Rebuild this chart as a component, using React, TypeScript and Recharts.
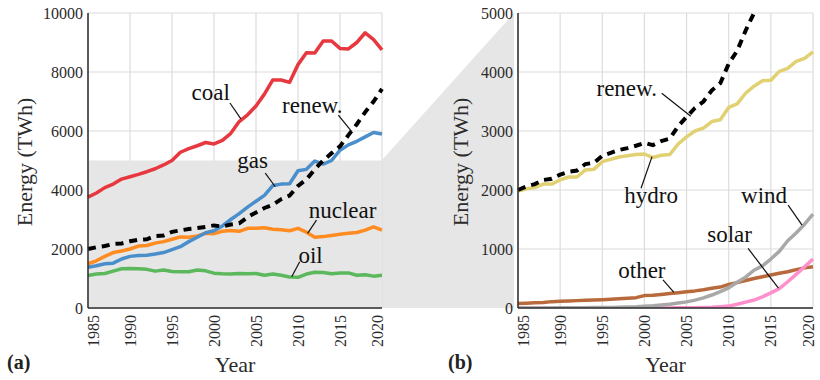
import React from 'react';
import {
  LineChart,
  Line,
  XAxis,
  YAxis,
  CartesianGrid,
  ReferenceArea,
  ReferenceLine,
  ReferenceDot,
} from 'recharts';

// yearly world electricity generation, TWh
const years = [
  1985, 1986, 1987, 1988, 1989, 1990, 1991, 1992, 1993, 1994, 1995, 1996,
  1997, 1998, 1999, 2000, 2001, 2002, 2003, 2004, 2005, 2006, 2007, 2008,
  2009, 2010, 2011, 2012, 2013, 2014, 2015, 2016, 2017, 2018, 2019, 2020,
];
const coal = [
  3760, 3900, 4080, 4200, 4370, 4450, 4530, 4620, 4720, 4850, 5000, 5280,
  5400, 5500, 5610, 5560, 5680, 5920, 6320, 6550, 6850, 7250, 7730, 7730,
  7650, 8250, 8650, 8640, 9050, 9050, 8800, 8780, 9000, 9330, 9100, 8750,
];
const gas = [
  1380, 1430, 1500, 1520, 1660, 1750, 1780, 1790, 1830, 1880, 1980, 2080,
  2250, 2400, 2550, 2620, 2780, 3000, 3200, 3420, 3620, 3820, 4150, 4200,
  4210, 4650, 4700, 4980, 4880, 5000, 5350, 5530, 5650, 5800, 5950, 5900,
];
const nuclear = [
  1500, 1600, 1750, 1880, 1930, 2000, 2100, 2120, 2200, 2250, 2330, 2410,
  2400, 2440, 2530, 2520, 2600, 2630, 2600, 2700, 2700, 2720, 2670, 2650,
  2620, 2700, 2570, 2400, 2420, 2460, 2500, 2530, 2560, 2640, 2750, 2640,
];
const oil = [
  1100, 1150, 1170, 1250, 1330, 1340, 1330, 1310, 1250, 1290, 1240, 1230,
  1230, 1290, 1260, 1180, 1160, 1150, 1170, 1160, 1170, 1110, 1150, 1110,
  1050, 1040, 1150, 1210, 1200, 1160, 1190, 1190, 1110, 1130, 1080, 1110,
];
const renew = [
  2000, 2060, 2100, 2170, 2190, 2260, 2310, 2330, 2440, 2460, 2580, 2630,
  2680, 2710, 2750, 2800, 2760, 2830, 2870, 3080, 3240, 3390, 3500, 3690,
  3810, 4140, 4360, 4700, 5000, 5250, 5480, 5860, 6230, 6640, 7000, 7430,
];
const hydro = [
  1980, 2020, 2040, 2100, 2100, 2170, 2220, 2220, 2340, 2350, 2480, 2520,
  2560, 2580, 2600, 2610, 2550, 2590, 2600, 2780, 2900, 3000, 3050, 3160,
  3190, 3400, 3460, 3640, 3760, 3850, 3860, 4010, 4060, 4180, 4230, 4340,
];
const wind = [
  0, 0, 0, 1, 2, 4, 4, 5, 6, 7, 8, 10,
  12, 16, 21, 31, 38, 52, 63, 85, 104, 133, 171, 220,
  277, 342, 437, 523, 640, 713, 830, 960, 1140, 1270, 1420, 1590,
];
const solar = [
  0, 0, 0, 0, 0, 0, 0, 0, 0, 0, 0, 0,
  0, 0, 1, 1, 1, 2, 2, 3, 4, 6, 8, 12,
  21, 32, 63, 100, 135, 190, 256, 328, 445, 570, 700, 830,
];
const other = [
  75, 82, 88, 95, 108, 115, 120, 125, 130, 135, 140, 148,
  158, 165, 175, 210, 215, 230, 245, 260, 275, 290, 310, 335,
  355, 400, 430, 465, 500, 530, 560, 590, 615, 650, 680, 700,
];

const yearTicks = [1985, 1990, 1995, 2000, 2005, 2010, 2015, 2020];
const ticksA = [0, 2000, 4000, 6000, 8000, 10000];
const ticksB = [0, 1000, 2000, 3000, 4000, 5000];

const rows = years.map((year, i) => ({
  year,
  coal: coal[i],
  gas: gas[i],
  nuclear: nuclear[i],
  oil: oil[i],
  renew: renew[i],
  hydro: hydro[i],
  wind: wind[i],
  solar: solar[i],
  other: other[i],
}));

const FONT = "'Liberation Serif', 'Liberation Sans', Arial, sans-serif";
const GRID = '#dcdcdc';
const SHADE = '#e6e6e6';
const AXIS = '#2b2b2b';
const TICK_SIZE = 16;
const AXIS_LABEL_SIZE = 22;
const NOTE_SIZE = 23;

// labels placed in data space, with a short leader line to their curve
type Note = { text: string; x: number; y: number; from: [number, number]; to: [number, number] };

const notesA: Note[] = [
  { text: 'coal', x: 1999.6, y: 7050, from: [2001.9, 6950], to: [2003.2, 6410] },
  { text: 'renew.', x: 2011.7, y: 6610, from: [2014.8, 6540], to: [2016.4, 5980] },
  { text: 'gas', x: 2004.6, y: 4750, from: [2006.1, 4570], to: [2007.3, 4110] },
  { text: 'nuclear', x: 2015.3, y: 3050, from: [2012.2, 2980], to: [2011.15, 2530] },
  { text: 'oil', x: 2011.5, y: 1525, from: [2010.2, 1570], to: [2009.25, 1060] },
];

const notesB: Note[] = [
  { text: 'renew.', x: 1997.9, y: 3590, from: [2002.05, 3640], to: [2005.5, 3250] },
  { text: 'hydro', x: 2000.8, y: 1780, from: [1999.6, 2030], to: [2000.9, 2565] },
  { text: 'wind', x: 2014.2, y: 1780, from: [2017.05, 1745], to: [2018.7, 1405] },
  { text: 'solar', x: 2010.1, y: 1120, from: [2012.3, 1010], to: [2015.9, 335] },
  { text: 'other', x: 1999.7, y: 508, from: [2002.2, 475], to: [2003.5, 266] },
];

const textStyle = { fontFamily: FONT };

const YearTick = (props: any) => {
  const { x, y, payload, index } = props;
  const last = yearTicks.length - 1;
  const shift = index === 0 ? 5 : index === last ? -5 : 0;
  return (
    <text
      transform={`translate(${x + shift},${y}) rotate(-90)`}
      textAnchor="end"
      dy="0.35em"
      fontSize={TICK_SIZE}
      style={textStyle}
      fill={AXIS}
    >
      {payload.value}
    </text>
  );
};

const energyLabel = (dx: number) => (props: any) => {
  const vb = props.viewBox;
  return (
    <text
      transform={`translate(${vb.x + dx},162) rotate(-90)`}
      textAnchor="middle"
      fontSize={AXIS_LABEL_SIZE}
      style={textStyle}
      fill={AXIS}
    >
      Energy (TWh)
    </text>
  );
};

const yearLabel = (props: any) => {
  const vb = props.viewBox;
  return (
    <text x={vb.x + vb.width / 2} y={372} textAnchor="middle" fontSize={AXIS_LABEL_SIZE} style={textStyle} fill={AXIS}>
      Year
    </text>
  );
};

const renderNotes = (notes: Note[]) => [
  ...notes.map((n) => (
    <ReferenceLine
      key={`l-${n.text}`}
      segment={[
        { x: n.from[0], y: n.from[1] },
        { x: n.to[0], y: n.to[1] },
      ]}
      stroke="#111"
      strokeWidth={1.2}
      ifOverflow="visible"
    />
  )),
  ...notes.map((n) => (
    <ReferenceDot
      key={`t-${n.text}`}
      x={n.x}
      y={n.y}
      r={0}
      ifOverflow="visible"
      shape={(p: any) => (
        <text x={p.cx} y={p.cy} textAnchor="middle" fontSize={NOTE_SIZE} style={textStyle} fill="#111">
          {n.text}
        </text>
      )}
    />
  )),
];

const lineProps = {
  type: 'linear' as const,
  dot: false,
  strokeWidth: 3.5,
  isAnimationActive: false,
  strokeLinejoin: 'round' as const,
};

const yTick = { fontSize: TICK_SIZE, fill: AXIS, style: textStyle };

export default function App() {
  return (
    <div style={{ position: 'absolute', left: 0, top: 0, width: 820, height: 380, background: '#fff', fontFamily: FONT }}>
      {/* zoom wedge from the shaded band of (a) to panel (b), plus panel letters */}
      <svg width={820} height={380} style={{ position: 'absolute', left: 0, top: 0 }}>
        <polygon points="382,160 514,13 514,308 382,308" fill={SHADE} />
        <text x={7} y={369} fontSize={20} fontWeight="bold" style={textStyle} fill="#222">
          (a)
        </text>
        <text x={448} y={369} fontSize={20} fontWeight="bold" style={textStyle} fill="#222">
          (b)
        </text>
      </svg>

      <div style={{ position: 'absolute', left: 0, top: 0 }}>
        <LineChart width={400} height={380} data={rows} margin={{ top: 13, right: 18, bottom: 0, left: 0 }}>
          <ReferenceArea y1={0} y2={5000} fill={SHADE} fillOpacity={1} stroke="none" />
          <CartesianGrid stroke={GRID} strokeWidth={1.2} />
          <XAxis
            dataKey="year"
            type="number"
            domain={[1985, 2020]}
            ticks={yearTicks}
            height={72}
            tickLine={false}
            tickSize={5}
            axisLine={{ stroke: AXIS, strokeWidth: 1.5 }}
            tick={<YearTick />}
            interval={0}
            label={yearLabel}
          />
          <YAxis
            type="number"
            domain={[0, 10000]}
            ticks={ticksA}
            width={88}
            tickLine={false}
            tickSize={3}
            axisLine={{ stroke: AXIS, strokeWidth: 1.5 }}
            tick={yTick}
            interval={0}
            label={energyLabel(32)}
          />
          <Line dataKey="oil" stroke="#5cb85c" {...lineProps} />
          <Line dataKey="nuclear" stroke="#ff8c21" {...lineProps} />
          <Line dataKey="gas" stroke="#4a8fcb" {...lineProps} />
          <Line dataKey="coal" stroke="#e8383f" {...lineProps} />
          <Line dataKey="renew" stroke="#000" {...lineProps} strokeWidth={4} strokeDasharray="8 6" strokeLinejoin="miter" />
          {renderNotes(notesA)}
        </LineChart>
      </div>

      <div style={{ position: 'absolute', left: 430, top: 0 }}>
        <LineChart width={390} height={380} data={rows} margin={{ top: 13, right: 7, bottom: 0, left: 0 }}>
          <CartesianGrid stroke={GRID} strokeWidth={1.2} />
          <XAxis
            dataKey="year"
            type="number"
            domain={[1985, 2020]}
            ticks={yearTicks}
            height={72}
            tickLine={false}
            tickSize={5}
            axisLine={{ stroke: AXIS, strokeWidth: 1.5 }}
            tick={<YearTick />}
            interval={0}
            label={yearLabel}
          />
          <YAxis
            type="number"
            domain={[0, 5000]}
            ticks={ticksB}
            width={88}
            allowDataOverflow
            tickLine={false}
            tickSize={3}
            axisLine={{ stroke: AXIS, strokeWidth: 1.5 }}
            tick={yTick}
            interval={0}
            label={energyLabel(38)}
          />
          <Line dataKey="other" stroke="#b86a3c" {...lineProps} />
          <Line dataKey="solar" stroke="#ff8fcc" {...lineProps} />
          <Line dataKey="wind" stroke="#a8a8a8" {...lineProps} />
          <Line dataKey="hydro" stroke="#e1d172" {...lineProps} />
          <Line dataKey="renew" stroke="#000" {...lineProps} strokeWidth={4} strokeDasharray="8 6" strokeLinejoin="miter" />
          {renderNotes(notesB)}
        </LineChart>
      </div>
    </div>
  );
}
